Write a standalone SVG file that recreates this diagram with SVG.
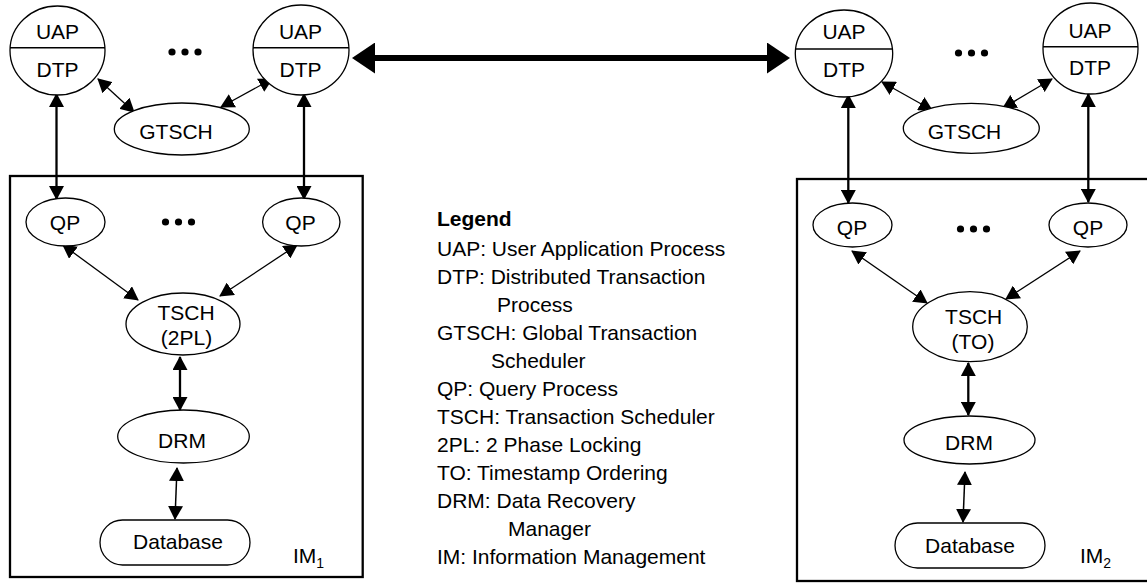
<svg xmlns="http://www.w3.org/2000/svg" width="1147" height="583" viewBox="0 0 1147 583">
<style>
text{font-family:"Liberation Sans",Arial,sans-serif;font-size:21px;fill:#000}
.c{text-anchor:middle}
.n{fill:#fff;stroke:#000;stroke-width:1.3}
.box{fill:none;stroke:#000;stroke-width:2.3}
.div{stroke:#000;stroke-width:1.6}
.thin{stroke:#000;stroke-width:1.3;fill:none;marker-start:url(#ah);marker-end:url(#ah)}
.thick{stroke:#000;stroke-width:2.3;fill:none;marker-start:url(#ah);marker-end:url(#ah)}
.big{stroke:#000;stroke-width:6;fill:none;marker-start:url(#bh);marker-end:url(#bh)}
.dot{fill:#000}
.sub{font-size:14px}
.b{font-weight:bold}
</style>
<defs>
<marker id="ah" markerUnits="userSpaceOnUse" markerWidth="14" markerHeight="15" refX="13" refY="7.5" orient="auto-start-reverse" viewBox="0 0 14 15"><path d="M0,0 L14,7.5 L0,15 z" fill="#000"/></marker>
<marker id="bh" markerUnits="userSpaceOnUse" markerWidth="23" markerHeight="31" refX="2" refY="15.5" orient="auto-start-reverse" viewBox="0 0 23 31"><path d="M0,0 L23,15.5 L0,31 z" fill="#000"/></marker>
</defs>

<g id="im1-box"><rect class="box" x="10" y="176" width="352.7" height="401"/></g>
<g id="im2-box"><rect class="box" x="797" y="179" width="352" height="402"/></g>

<g id="connectors">
<line class="big" x1="373" y1="58" x2="769" y2="58"/>
<line class="thin" x1="98" y1="79" x2="134" y2="112"/>
<line class="thin" x1="272" y1="79" x2="221" y2="107"/>
<line class="thick" x1="56.5" y1="94" x2="56.5" y2="199"/>
<line class="thick" x1="304" y1="94" x2="304" y2="199"/>
<line class="thin" x1="63" y1="245" x2="138" y2="300"/>
<line class="thin" x1="297" y1="245" x2="220" y2="296"/>
<line class="thick" x1="180" y1="357" x2="180" y2="410"/>
<line class="thin" style="stroke-width:1.5" x1="177" y1="468" x2="175" y2="519"/>

<line class="thin" x1="882" y1="82" x2="932" y2="110"/>
<line class="thin" x1="1052" y1="79" x2="1003" y2="108"/>
<line class="thick" x1="848.3" y1="95" x2="848.3" y2="203"/>
<line class="thick" x1="1088.3" y1="94" x2="1088.3" y2="202"/>
<line class="thin" x1="852" y1="251" x2="927" y2="303"/>
<line class="thin" x1="1080" y1="251" x2="1006" y2="299"/>
<line class="thick" x1="968.3" y1="363" x2="968.3" y2="415"/>
<line class="thin" style="stroke-width:1.5" x1="965" y1="472" x2="963" y2="522"/>
</g>

<g id="uap1"><ellipse class="n" cx="57.5" cy="50.5" rx="47.5" ry="44.5"/><line class="div" x1="10" y1="47.7" x2="105" y2="47.7"/><text class="c" x="57.5" y="39.3">UAP</text><text class="c" x="57.5" y="77">DTP</text></g>
<g id="uap2"><ellipse class="n" cx="301" cy="50" rx="48" ry="45"/><line class="div" x1="253" y1="47.7" x2="349" y2="47.7"/><text class="c" x="300.5" y="39.3">UAP</text><text class="c" x="300.5" y="77">DTP</text></g>
<g id="dots1"><circle class="dot" cx="172" cy="52" r="3.6"/><circle class="dot" cx="185" cy="52" r="3.6"/><circle class="dot" cx="198" cy="52" r="3.6"/></g>
<g id="gtsch1"><ellipse class="n" cx="181.8" cy="129" rx="67.5" ry="26"/><text class="c" x="176" y="139">GTSCH</text></g>
<g id="qp1"><ellipse class="n" cx="65.5" cy="222" rx="39.5" ry="24"/><text class="c" x="65" y="230">QP</text></g>
<g id="qp2"><ellipse class="n" cx="301.3" cy="222" rx="38.7" ry="24"/><text class="c" x="300.5" y="230">QP</text></g>
<g id="dots2"><circle class="dot" cx="165.5" cy="222" r="3.6"/><circle class="dot" cx="178.5" cy="222" r="3.6"/><circle class="dot" cx="191.5" cy="222" r="3.6"/></g>
<g id="tsch1"><ellipse class="n" cx="183" cy="324" rx="57" ry="31"/><text class="c" x="186" y="320">TSCH</text><text class="c" x="186.5" y="345">(2PL)</text></g>
<g id="drm1"><ellipse class="n" cx="183.5" cy="436.5" rx="65.8" ry="26.5"/><text class="c" x="182" y="448">DRM</text></g>
<g id="db1"><rect class="n" x="100" y="520" width="150" height="45" rx="22.5" ry="22.5"/><text class="c" x="178" y="549">Database</text></g>
<g id="im1-label"><text x="293" y="563">IM<tspan class="sub" dy="5">1</tspan></text></g>

<g id="uap3"><ellipse class="n" cx="844" cy="53.5" rx="48.7" ry="43.5"/><line class="div" x1="795.3" y1="49" x2="892.7" y2="49"/><text class="c" x="844" y="39.3">UAP</text><text class="c" x="844" y="77.3">DTP</text></g>
<g id="uap4"><ellipse class="n" cx="1090.5" cy="48.5" rx="47.5" ry="45.5"/><line class="div" x1="1043" y1="46.7" x2="1138" y2="46.7"/><text class="c" x="1090" y="37.7">UAP</text><text class="c" x="1090" y="75">DTP</text></g>
<g id="dots3"><circle class="dot" cx="958.5" cy="53" r="3.6"/><circle class="dot" cx="971.5" cy="53" r="3.6"/><circle class="dot" cx="984.5" cy="53" r="3.6"/></g>
<g id="gtsch2"><ellipse class="n" cx="971.3" cy="128.3" rx="68" ry="25"/><text class="c" x="964.5" y="139.3">GTSCH</text></g>
<g id="qp3"><ellipse class="n" cx="852.5" cy="225" rx="39.5" ry="22"/><text class="c" x="852" y="235">QP</text></g>
<g id="qp4"><ellipse class="n" cx="1088" cy="225" rx="39" ry="22"/><text class="c" x="1088" y="235">QP</text></g>
<g id="dots4"><circle class="dot" cx="960.5" cy="229" r="3.6"/><circle class="dot" cx="973.5" cy="229" r="3.6"/><circle class="dot" cx="986.5" cy="229" r="3.6"/></g>
<g id="tsch2"><ellipse class="n" cx="970" cy="326.7" rx="57.3" ry="35"/><text class="c" x="973.7" y="324">TSCH</text><text class="c" x="973" y="349.3">(TO)</text></g>
<g id="drm2"><ellipse class="n" cx="969.5" cy="440" rx="65.5" ry="24"/><text class="c" x="969" y="450">DRM</text></g>
<g id="db2"><rect class="n" x="895" y="523" width="150" height="45" rx="22.5" ry="22.5"/><text class="c" x="970" y="553.3">Database</text></g>
<g id="im2-label"><text x="1080" y="563.3">IM<tspan class="sub" dy="5">2</tspan></text></g>

<g id="legend">
<text class="b" x="437" y="226">Legend</text>
<text x="437" y="256">UAP: User Application Process</text>
<text x="437" y="284">DTP: Distributed Transaction</text>
<text x="497" y="312">Process</text>
<text x="437" y="340">GTSCH: Global Transaction</text>
<text x="491" y="368">Scheduler</text>
<text x="437" y="396">QP: Query Process</text>
<text x="437" y="424">TSCH: Transaction Scheduler</text>
<text x="437" y="452">2PL: 2 Phase Locking</text>
<text x="437" y="480">TO: Timestamp Ordering</text>
<text x="437" y="508">DRM: Data Recovery</text>
<text x="508" y="536">Manager</text>
<text x="437" y="564">IM: Information Management</text>
</g>
</svg>
